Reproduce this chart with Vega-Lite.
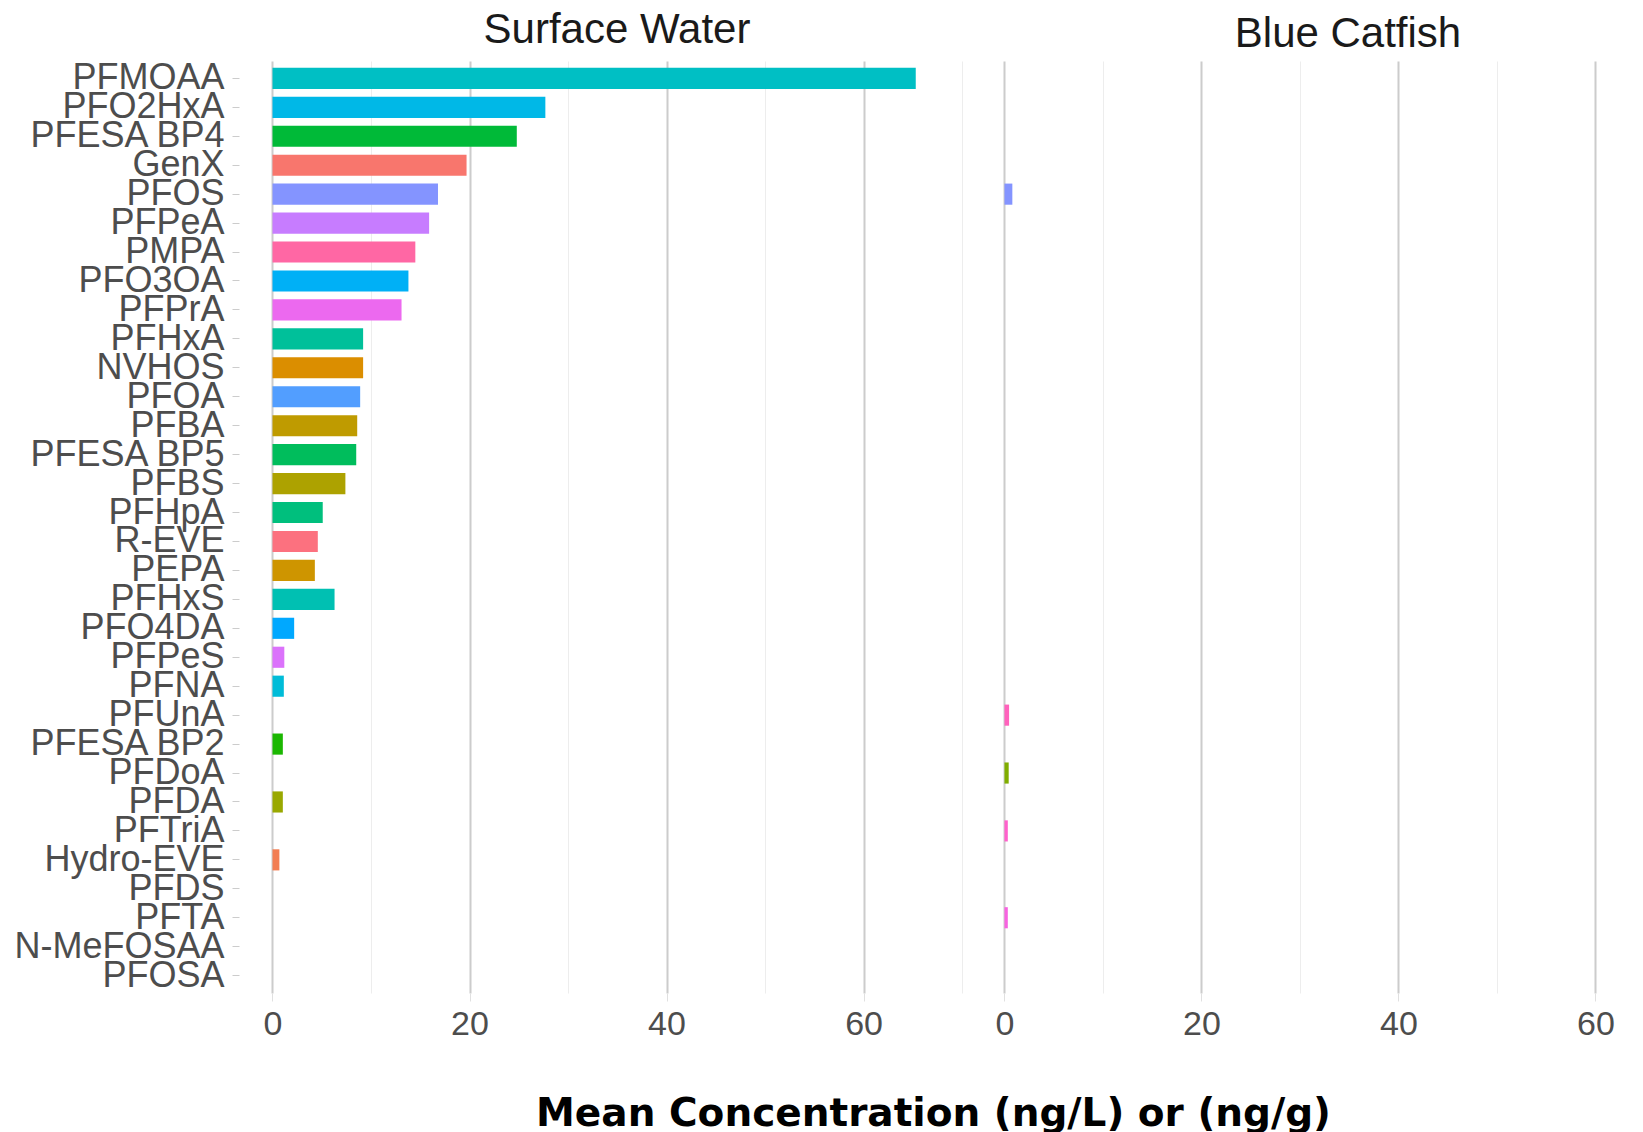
{
  "$schema": "https://vega.github.io/schema/vega-lite/v6.json",
  "background": "white",
  "padding": {"left": 13, "top": 8, "right": 5, "bottom": 0},
  "title": {"text": "Mean Concentration (ng/L) or (ng/g)", "orient": "bottom", "anchor": "middle", "font": "DejaVu Sans", "fontWeight": "bold", "fontSize": 39, "color": "#000000", "offset": 54, "dx": 114},
  "config": {"view": {"stroke": null}, "concat": {"spacing": 4}},
  "datasets": {
    "surface": [
      {"compound": "PFMOAA", "value": 65.3},
      {"compound": "PFO2HxA", "value": 27.7},
      {"compound": "PFESA BP4", "value": 24.8},
      {"compound": "GenX", "value": 19.7},
      {"compound": "PFOS", "value": 16.8},
      {"compound": "PFPeA", "value": 15.9},
      {"compound": "PMPA", "value": 14.5},
      {"compound": "PFO3OA", "value": 13.8},
      {"compound": "PFPrA", "value": 13.1},
      {"compound": "PFHxA", "value": 9.2},
      {"compound": "NVHOS", "value": 9.2},
      {"compound": "PFOA", "value": 8.9},
      {"compound": "PFBA", "value": 8.6},
      {"compound": "PFESA BP5", "value": 8.5},
      {"compound": "PFBS", "value": 7.4},
      {"compound": "PFHpA", "value": 5.1},
      {"compound": "R-EVE", "value": 4.6},
      {"compound": "PEPA", "value": 4.3},
      {"compound": "PFHxS", "value": 6.3},
      {"compound": "PFO4DA", "value": 2.2},
      {"compound": "PFPeS", "value": 1.2},
      {"compound": "PFNA", "value": 1.15},
      {"compound": "PFUnA", "value": 0},
      {"compound": "PFESA BP2", "value": 1.05},
      {"compound": "PFDoA", "value": 0},
      {"compound": "PFDA", "value": 1.05},
      {"compound": "PFTriA", "value": 0},
      {"compound": "Hydro-EVE", "value": 0.7},
      {"compound": "PFDS", "value": 0},
      {"compound": "PFTA", "value": 0},
      {"compound": "N-MeFOSAA", "value": 0},
      {"compound": "PFOSA", "value": 0}
    ],
    "catfish": [
      {"compound": "PFOS", "value": 0.8},
      {"compound": "PFUnA", "value": 0.47},
      {"compound": "PFDoA", "value": 0.43},
      {"compound": "PFTriA", "value": 0.34},
      {"compound": "PFTA", "value": 0.34}
    ]
  },
  "hconcat": [
    {
      "width": 726,
      "height": 932,
      "title": {"text": "Surface Water", "font": "Liberation Sans", "fontSize": 42, "fontWeight": "normal", "color": "#1A1A1A", "anchor": "middle", "dx": 15, "offset": 8},
      "data": {"name": "surface"},
      "mark": {"type": "bar"},
      "encoding": {
        "y": {
          "field": "compound", "type": "nominal",
          "scale": {"domain": ["PFMOAA","PFO2HxA","PFESA BP4","GenX","PFOS","PFPeA","PMPA","PFO3OA","PFPrA","PFHxA","NVHOS","PFOA","PFBA","PFESA BP5","PFBS","PFHpA","R-EVE","PEPA","PFHxS","PFO4DA","PFPeS","PFNA","PFUnA","PFESA BP2","PFDoA","PFDA","PFTriA","Hydro-EVE","PFDS","PFTA","N-MeFOSAA","PFOSA"], "paddingInner": 0.27, "paddingOuter": 0.235},
          "axis": {"title": null, "domain": false, "grid": false, "labelFont": "Liberation Sans", "labelFontSize": 36, "labelColor": "#4D4D4D", "labelPadding": 8, "tickSize": 7, "tickColor": "#CCCCCC", "tickWidth": 1, "labelOverlap": false, "labelBound": false, "labelLimit": 400, "labelBaseline": "middle"}
        },
        "x": {
          "field": "value", "type": "quantitative",
          "scale": {"domain": [-3.4, 70.3], "nice": false, "zero": false},
          "axis": {"title": null, "domain": false, "values": [0,10,20,30,40,50,60,70],
            "labelExpr": "datum.value % 20 === 0 ? datum.label : ''",
            "labelFont": "Liberation Sans", "labelFontSize": 34, "labelColor": "#4D4D4D", "labelPadding": 6,
            "tickSize": 8,
            "tickColor": {"condition": {"test": "datum.value % 20 === 0", "value": "#E0E0E0"}, "value": "transparent"},
            "gridColor": {"condition": {"test": "datum.value % 20 === 0", "value": "#CCCCCC"}, "value": "#EDEDED"},
            "gridWidth": {"condition": {"test": "datum.value % 20 === 0", "value": 2}, "value": 1},
            "labelOverlap": false, "labelBound": false, "labelFlush": false}
        },
        "x2": {"datum": 0},
        "color": {
          "field": "compound", "type": "nominal", "legend": null,
          "scale": {
            "domain": ["GenX","Hydro-EVE","N-MeFOSAA","NVHOS","PEPA","PFBA","PFBS","PFDA","PFDoA","PFDS","PFESA BP2","PFESA BP4","PFESA BP5","PFHpA","PFHxA","PFHxS","PFMOAA","PFNA","PFO2HxA","PFO3OA","PFO4DA","PFOA","PFOS","PFOSA","PFPeA","PFPeS","PFPrA","PFTA","PFTriA","PFUnA","PMPA","R-EVE"],
            "range": ["#F8766D","#F27D52","#E7851E","#DB8E00","#CE9500","#BF9B00","#ADA200","#99A800","#80AD00","#5EB300","#1BB701","#00BA38","#00BD5C","#00BF7D","#00C09A","#00C0B2","#00BFC4","#00BCD8","#00B8E7","#00B0F6","#00A8FF","#529EFF","#8494FF","#A58AFF","#C77CFF","#DB72FB","#EC69EF","#F763E0","#FF61CC","#FF62BC","#FF67A4","#FC717F"]
          }
        }
      }
    },
    {
      "width": 656,
      "height": 932,
      "title": {"text": "Blue Catfish", "font": "Liberation Sans", "fontSize": 42, "fontWeight": "normal", "color": "#1A1A1A", "anchor": "middle", "dx": 51, "offset": 5},
      "data": {"name": "catfish"},
      "mark": {"type": "bar"},
      "encoding": {
        "y": {
          "field": "compound", "type": "nominal",
          "scale": {"domain": ["PFMOAA","PFO2HxA","PFESA BP4","GenX","PFOS","PFPeA","PMPA","PFO3OA","PFPrA","PFHxA","NVHOS","PFOA","PFBA","PFESA BP5","PFBS","PFHpA","R-EVE","PEPA","PFHxS","PFO4DA","PFPeS","PFNA","PFUnA","PFESA BP2","PFDoA","PFDA","PFTriA","Hydro-EVE","PFDS","PFTA","N-MeFOSAA","PFOSA"], "paddingInner": 0.27, "paddingOuter": 0.235},
          "axis": null
        },
        "x": {
          "field": "value", "type": "quantitative",
          "scale": {"domain": [-3.6, 63], "nice": false, "zero": false},
          "axis": {"title": null, "domain": false, "values": [0,10,20,30,40,50,60],
            "labelExpr": "datum.value % 20 === 0 ? datum.label : ''",
            "labelFont": "Liberation Sans", "labelFontSize": 34, "labelColor": "#4D4D4D", "labelPadding": 6,
            "tickSize": 8,
            "tickColor": {"condition": {"test": "datum.value % 20 === 0", "value": "#E0E0E0"}, "value": "transparent"},
            "gridColor": {"condition": {"test": "datum.value % 20 === 0", "value": "#CCCCCC"}, "value": "#EDEDED"},
            "gridWidth": {"condition": {"test": "datum.value % 20 === 0", "value": 2}, "value": 1},
            "labelOverlap": false, "labelBound": false, "labelFlush": false}
        },
        "x2": {"datum": 0},
        "color": {
          "field": "compound", "type": "nominal", "legend": null,
          "scale": {
            "domain": ["GenX","Hydro-EVE","N-MeFOSAA","NVHOS","PEPA","PFBA","PFBS","PFDA","PFDoA","PFDS","PFESA BP2","PFESA BP4","PFESA BP5","PFHpA","PFHxA","PFHxS","PFMOAA","PFNA","PFO2HxA","PFO3OA","PFO4DA","PFOA","PFOS","PFOSA","PFPeA","PFPeS","PFPrA","PFTA","PFTriA","PFUnA","PMPA","R-EVE"],
            "range": ["#F8766D","#F27D52","#E7851E","#DB8E00","#CE9500","#BF9B00","#ADA200","#99A800","#80AD00","#5EB300","#1BB701","#00BA38","#00BD5C","#00BF7D","#00C09A","#00C0B2","#00BFC4","#00BCD8","#00B8E7","#00B0F6","#00A8FF","#529EFF","#8494FF","#A58AFF","#C77CFF","#DB72FB","#EC69EF","#F763E0","#FF61CC","#FF62BC","#FF67A4","#FC717F"]
          }
        }
      }
    }
  ]
}
